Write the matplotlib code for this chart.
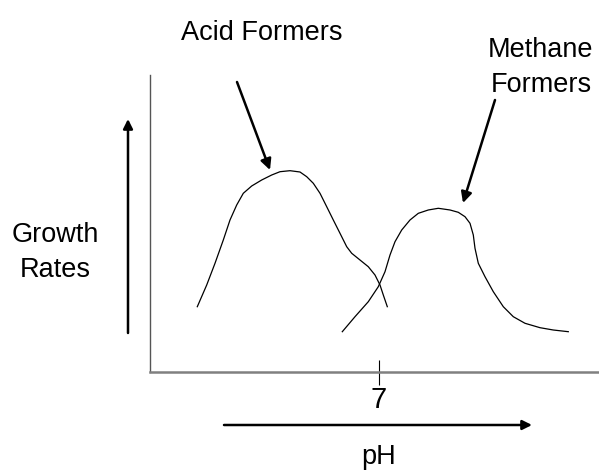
import matplotlib
matplotlib.use("Agg")
import matplotlib.pyplot as plt

plt.rcParams['font.family'] = ['Liberation Sans', 'DejaVu Sans']

# Acid formers growth curve (pH, relative growth rate)
acid_ph = [3.366, 3.554, 3.72, 3.886, 4.02, 4.154, 4.286, 4.454, 4.654, 4.854,
           5.02, 5.22, 5.42, 5.554, 5.686, 5.82, 5.954, 6.086, 6.22, 6.354,
           6.454, 6.62, 6.786, 6.92, 7.02, 7.086, 7.166]
acid_rate = [21.99, 29.29, 36.6, 44.44, 51.18, 56.23, 60.17, 62.63, 64.65, 66.33,
             67.44, 67.78, 67.34, 65.76, 63.54, 60.17, 55.66, 51.18, 46.70, 42.19,
             39.97, 37.71, 35.45, 32.66, 29.29, 25.93, 21.99]

# Methane formers growth curve
meth_ph = [6.266, 6.52, 6.786, 6.986, 7.12, 7.22, 7.32, 7.454, 7.62, 7.786,
           7.986, 8.186, 8.42, 8.586, 8.72, 8.82, 8.886, 8.92, 8.986, 9.12,
           9.286, 9.486, 9.686, 9.92, 10.22, 10.486, 10.786]
meth_rate = [13.57, 18.62, 23.67, 28.72, 33.77, 39.39, 43.87, 47.81, 51.18, 53.43,
             54.55, 55.12, 54.55, 53.77, 52.29, 50.07, 46.13, 41.65, 36.60, 32.09,
             27.04, 21.99, 18.62, 16.40, 14.92, 14.14, 13.57]

tick_vals = [7]
tick_labels = ["7"]

W, H = 599, 473
fig = plt.figure(figsize=(W / 100, H / 100), dpi=100)
ax = fig.add_axes([150 / W, (H - 372) / H, (598 - 150) / W, (372 - 75) / H])

ax.plot(acid_ph, acid_rate, color='black', lw=0.9, solid_joinstyle='round')
ax.plot(meth_ph, meth_rate, color='black', lw=0.9, solid_joinstyle='round')

ax.set_xlim(2.42, 11.38)
ax.set_ylim(0, 100)
for s in ['top', 'right']:
    ax.spines[s].set_visible(False)
ax.spines['left'].set_color('#555555')
ax.spines['left'].set_linewidth(1.0)
ax.spines['bottom'].set_color('#808080')
ax.spines['bottom'].set_linewidth(1.8)
ax.set_yticks([])
ax.set_xticks(tick_vals)
ax.set_xticklabels(tick_labels, fontsize=21)
ax.tick_params(axis='x', direction='inout', length=18, width=0.8,
               color='black', pad=1)

fs = 19.5
def fpx(x, y):
    return x, H - y

arrow_kw = dict(arrowstyle='-|>', color='black', lw=1.8, shrinkA=0, shrinkB=0)
# Annotation arrows
ax.annotate('', xy=fpx(270, 170), xytext=fpx(237, 82),
            xycoords='figure pixels', textcoords='figure pixels',
            arrowprops=dict(mutation_scale=16, **arrow_kw))
ax.annotate('', xy=fpx(463, 203), xytext=fpx(495, 100),
            xycoords='figure pixels', textcoords='figure pixels',
            arrowprops=dict(mutation_scale=16, **arrow_kw))
# Axis direction arrows
ax.annotate('', xy=fpx(128, 119), xytext=fpx(128, 333),
            xycoords='figure pixels', textcoords='figure pixels',
            arrowprops=dict(mutation_scale=14, **arrow_kw))
ax.annotate('', xy=fpx(532, 425), xytext=fpx(224, 425),
            xycoords='figure pixels', textcoords='figure pixels',
            arrowprops=dict(mutation_scale=14, **arrow_kw))

def ftext(x, y, s):
    fig.text(x / W, (H - y) / H, s, fontsize=fs, ha='center', va='baseline')

ftext(262, 40, "Acid Formers")
ftext(541, 57, "Methane")
ftext(541, 92, "Formers")
ftext(55, 242, "Growth")
ftext(55, 277, "Rates")
ftext(379, 464, "pH")

fig.savefig("out.png", dpi=100)
